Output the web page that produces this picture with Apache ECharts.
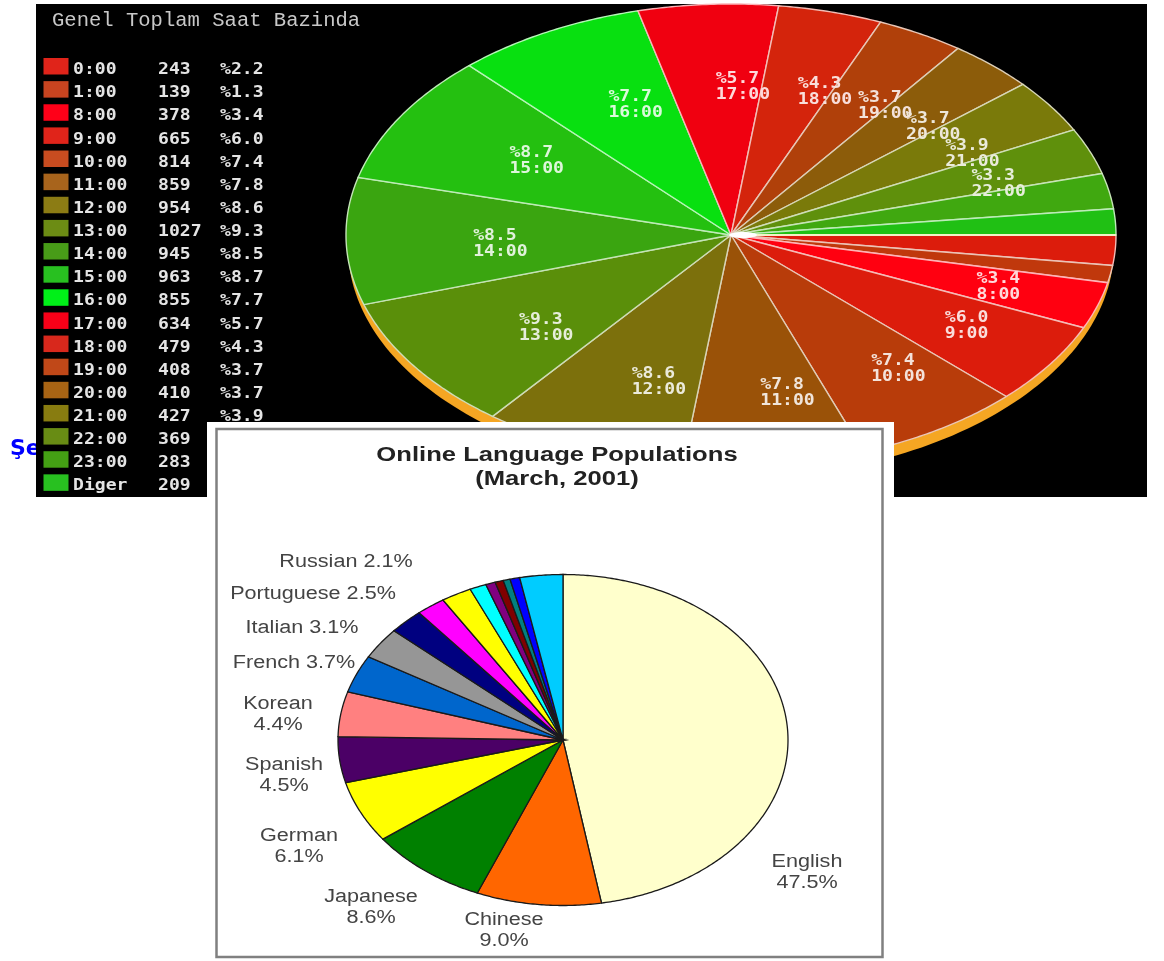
<!DOCTYPE html>
<html>
<head>
<meta charset="utf-8">
<style>html,body{margin:0;padding:0;background:#fff}#c{width:1164px;height:961px}</style>
<script src="https://cdn.jsdelivr.net/npm/echarts@6/dist/echarts.min.js"></script>
</head>
<body>
<div id="c"></div>
<script>
// ---------- data: hourly pie ----------
const hourTitle = 'Genel Toplam Saat Bazinda';
const hourNames = ['0:00','1:00','8:00','9:00','10:00','11:00','12:00','13:00','14:00','15:00','16:00','17:00','18:00','19:00','20:00','21:00','22:00','23:00','Diger'];
const hourCounts = [243,139,378,665,814,859,954,1027,945,963,855,634,479,408,410,427,369,283,209];
const hourPercents = ['2.2','1.3','3.4','6.0','7.4','7.8','8.6','9.3','8.5','8.7','7.7','5.7','4.3','3.7','3.7','3.9','3.3','2.6','1.9'];
const hourColors = ['#dc1c0c','#c0380c','#ff0010','#dc1c0c','#b83c0a','#9a5208','#7c700c','#5a8f0a','#3aa510','#24c010','#08e010','#f00010','#d4240c','#b0400a','#8c5c0a','#7a7a0a','#5f900c','#40a810','#20c014'];
const swatchColors = ['#e0241a','#c84420','#ff0018','#e0241a','#c84c20','#a8641c','#8c7c14','#6c8c14','#489c18','#28c020','#00f018','#f80018','#d8281c','#c04818','#a86414','#887c10','#688c14','#44a014','#28c020'];
// ---------- data: language pie ----------
const langTitle = ['Online Language Populations','(March, 2001)'];
const langNames = ['English','Chinese','Japanese','German','Spanish','Korean','French','Italian','Portuguese','Russian','Other A','Other B','Other C','Other D','Other E','Other F','Other G'];
const langValues = [47.5,9.0,8.6,6.1,4.5,4.4,3.7,3.1,2.5,2.1,2.2,1.2,0.7,0.6,0.5,0.7,3.1];
const langColors = ['#ffffcc','#ff6600','#008000','#ffff00','#4b0066','#ff8080','#0066cc','#969696','#000080','#ff00ff','#ffff00','#00ffff','#800080','#800000','#008080','#0000ff','#00ccff'];
const langLabels = ['English\n47.5%','Chinese\n9.0%','Japanese\n8.6%','German\n6.1%','Spanish\n4.5%','Korean\n4.4%','French 3.7%','Italian 3.1%','Portuguese 2.5%','Russian 2.1%'];

// ---------- layout (separate from the data) ----------
const hourPie = {cx:731, cy:235, rx:385, ry:231, depth:12, labelX:0.67, labelY:0.666, labelLift:11, minLabel:3};
const langPie = {cx:563, cy:740, rx:225, ry:165.5};
const langLabelPos = [[807,873],[504,931],[371,908],[299,847],[284,776],[278,715],[294,663],[302,628],[313,594],[346,562]];
const rowY = i => 70 + 23.13 * i;

const sum = a => a.reduce((s,v)=>s+v,0);
function sweep(values, i){
  let before = 0; for (let k=0;k<i;k++) before += values[k];
  const total = sum(values);
  return [before/total*Math.PI*2, (before+values[i])/total*Math.PI*2];
}
// the tilted hourly pie: on screen its angles are slightly pulled toward the front
const tilted = t => t - 0.04*Math.sin(t) - 0.02*(1-Math.cos(t));
const flat = t => t;
// a slice of an elliptical pie; a0 and a1 run clockwise from `start`
function slicePoints(p, a0, a1, start, warp){
  const pts = [[p.cx,p.cy]];
  const n = Math.max(2, Math.ceil((a1-a0)/0.01));
  for (let j=0;j<=n;j++){
    const a = start + warp(a0 + (a1-a0)*j/n);
    pts.push([p.cx + p.rx*Math.cos(a), p.cy + p.ry*Math.sin(a)]);
  }
  return pts;
}
function tint(hex, k){
  const c=[1,3,5].map(i=>parseInt(hex.substr(i,2),16));
  return 'rgb('+c.map(v=>Math.round(v+(255-v)*k)).join(',')+')';
}
const MONO = '"DejaVu Sans Mono", monospace';
const SANS = '"Liberation Sans", Arial, sans-serif';

// ---------- static furniture and the hourly legend ----------
const graphics = [
  {type:'text', z:0, x:10, y:438, style:{text:'Şe', fill:'#0000ff', font:'bold 22px "DejaVu Sans", sans-serif'}},
  {type:'rect', z:0, shape:{x:36,y:4,width:1111,height:493}, style:{fill:'#000'}},
  {type:'ellipse', z:0, shape:{cx:hourPie.cx, cy:hourPie.cy+hourPie.depth, rx:hourPie.rx-2, ry:hourPie.ry}, style:{fill:'#f5a623'}},
  {type:'text', z:1, x:52, y:11, scaleX:1.027, style:{text:hourTitle, fill:'#c8c8c8', font:'20px "Liberation Mono", monospace'}},
  {type:'rect', z:3, shape:{x:207,y:422,width:687,height:539}, style:{fill:'#fff'}},
  {type:'rect', z:3, shape:{x:216.5,y:429,width:666,height:528}, style:{fill:'#fff', stroke:'#808080', lineWidth:2.5}},
  {type:'text', z:5, x:557, y:445, scaleX:1.28, style:{text:langTitle[0], fill:'#222', font:'bold 20px '+SANS, textAlign:'center'}},
  {type:'text', z:5, x:557, y:469, scaleX:1.28, style:{text:langTitle[1], fill:'#222', font:'bold 20px '+SANS, textAlign:'center'}}
];
hourNames.forEach((name,i)=>{
  const y = rowY(i);
  const cols = [[73,name],[158,String(hourCounts[i])],[220,'%'+hourPercents[i]]];
  graphics.push({type:'rect', z:1, shape:{x:43.5,y:y-12,width:25,height:16.5}, style:{fill:swatchColors[i]}});
  cols.forEach(c=>graphics.push({type:'text', z:1, x:c[0], y:y, scaleX:1.13,
    style:{text:c[1], fill:'#e4e4e4', font:'bold 16px '+MONO, textVerticalAlign:'middle'}}));
});
langLabels.forEach((t,i)=>{
  graphics.push({type:'text', z:5, x:langLabelPos[i][0], y:langLabelPos[i][1], scaleX:1.2,
    style:{text:t, fill:'#444', font:'18px '+SANS, textAlign:'center', textVerticalAlign:'middle', lineHeight:21}});
});

const option = {
  animation:false,
  backgroundColor:'#fff',
  graphic:{elements:graphics},
  series:[
    {
      type:'custom', coordinateSystem:'none', z:1, silent:true,
      data:hourCounts,
      renderItem(params){
        const i = params.dataIndex;
        const [a0,a1] = sweep(hourCounts,i);
        const children = [{type:'polygon', shape:{points:slicePoints(hourPie,a0,a1,0,tilted)},
          style:{fill:hourColors[i], stroke:tint(hourColors[i],0.7), lineWidth:1.4}}];
        if (parseFloat(hourPercents[i]) >= hourPie.minLabel){
          const m=tilted((a0+a1)/2);
          children.push({type:'text', z2:10, x:hourPie.cx+hourPie.rx*hourPie.labelX*Math.cos(m),
            y:hourPie.cy+hourPie.ry*hourPie.labelY*Math.sin(m)-hourPie.labelLift, scaleX:1.13,
            style:{text:'%'+hourPercents[i]+'\n'+hourNames[i], fill:tint(hourColors[i],0.85), font:'bold 16px '+MONO, lineHeight:16, textVerticalAlign:'top'}});
        }
        if (i === hourCounts.length-1){
          children.push({type:'line', z2:8, shape:{x1:hourPie.cx,y1:hourPie.cy,x2:hourPie.cx+hourPie.rx,y2:hourPie.cy},
            style:{stroke:'#f2f2c8', lineWidth:2.2}});
          children.push({type:'ellipse', z2:9, shape:{cx:hourPie.cx+12,cy:hourPie.cy,rx:14,ry:3}, style:{fill:'#fff'}});
        }
        return {type:'group', children};
      }
    },
    {
      type:'custom', coordinateSystem:'none', z:4, silent:true,
      data:langValues,
      renderItem(params){
        const i = params.dataIndex;
        const [a0,a1] = sweep(langValues,i);
        return {type:'polygon', shape:{points:slicePoints(langPie,a0,a1,-Math.PI/2,flat)},
          style:{fill:langColors[i], stroke:'#1a1a1a', lineWidth:1.3}};
      }
    }
  ]
};
echarts.init(document.getElementById('c')).setOption(option);
</script>
</body>
</html>
